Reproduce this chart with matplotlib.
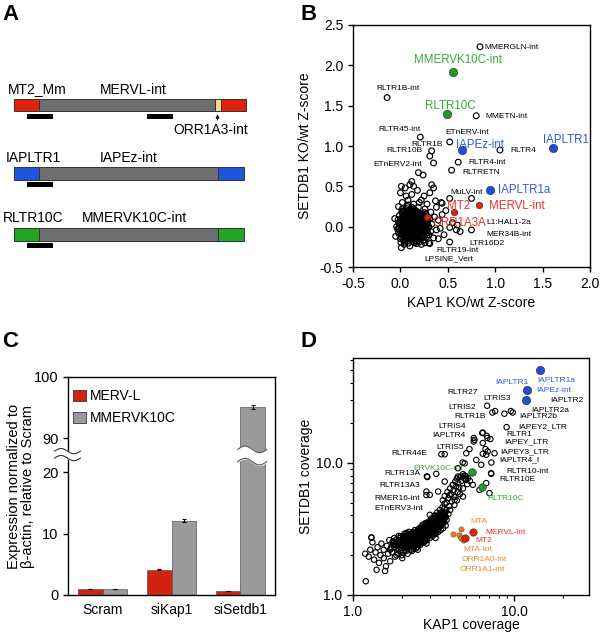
import numpy as np
import matplotlib
matplotlib.use('Agg')
import matplotlib.pyplot as plt
from matplotlib.patches import Rectangle, Patch
from matplotlib.ticker import FormatStrFormatter, LogLocator, NullFormatter

plt.rcParams['font.family'] = ['Liberation Sans', 'DejaVu Sans']

# ---------------- Panel A data (schematic) ----------------
a_ltr_names = ['MT2_Mm', 'IAPLTR1', 'RLTR10C']
a_int_names = ['MERVL-int', 'IAPEz-int', 'MMERVK10C-int']
a_ltr_colors = ['#e0230f', '#1f55d8', '#22a522']
a_ltr_len = [25, 25, 25]
a_int_len = [176, 179, 179]
a_extra_len = [6, 0, 0]          # ORR1A3-int insertion
a_ltr3_len = [25, 26, 26]

# ---------------- Panel B data ----------------
b_open_pts = [
    # dense core
    (0.00,0.02),(0.02,-0.05),(0.05,0.08),(0.07,-0.02),(0.10,0.04),(0.12,-0.08),(0.15,0.01),(0.03,0.12),
    (0.08,-0.12),(0.18,0.06),(0.20,-0.04),(0.13,0.14),(0.01,-0.10),(0.06,0.18),(0.22,0.10),(0.25,-0.08),
    (0.17,-0.14),(0.09,0.00),(0.04,-0.01),(0.11,0.09),(-0.02,0.05),(-0.03,-0.03),(0.14,-0.02),(0.19,0.13),
    (0.23,0.02),(0.27,0.05),(0.28,-0.12),(0.06,-0.16),(0.10,-0.18),(0.16,0.20),(0.02,0.22),(0.12,0.24),
    (0.21,-0.16),(0.30,0.00),(0.32,-0.06),(-0.01,0.14),(0.07,0.06),(0.16,-0.07),(0.05,0.03),(0.13,0.05),
    (0.09,-0.06),(0.18,-0.01),(0.03,-0.07),(0.11,-0.11),(0.24,0.14),(0.20,0.17),(0.08,0.15),(0.15,0.10),
    (0.26,-0.02),(0.00,-0.15),(0.04,0.09),(0.12,0.01),(0.19,-0.10),(0.22,-0.06),(0.14,-0.15),(0.07,0.25),
    (0.01,0.07),(0.17,0.03),(0.10,0.12),(0.06,-0.09),(-0.04,0.00),(0.29,0.08),(0.33,0.03),(0.24,-0.13),
    (0.09,0.20),(0.02,0.17),(0.16,0.15),(0.05,-0.12),(0.13,-0.05),(0.21,0.07),(0.08,-0.04),(0.11,-0.02),
    (0.14,0.06),(0.03,0.04),(0.19,0.00),(0.06,0.01),(0.16,-0.11),(0.10,-0.14),(-0.02,-0.08),(0.25,0.08),
    (0.01,-0.02),(0.04,0.05),(0.07,0.10),(0.09,-0.09),(0.12,0.07),(0.15,-0.04),(0.18,0.09),(0.20,0.02),
    (0.22,-0.10),(0.05,-0.05),(0.08,0.02),(0.11,0.16),(0.14,0.12),(0.17,-0.06),(0.02,0.10),(0.06,0.13),
    (0.10,-0.03),(0.13,-0.10),(0.16,0.04),(0.19,-0.13),(0.23,0.05),(0.26,0.11),(0.28,-0.04),(0.03,-0.12),
    (0.07,-0.14),(0.12,-0.16),(0.00,0.09),(-0.01,-0.05),(0.09,0.07),(0.15,0.17),(0.21,0.12),(0.18,-0.18),
    (0.24,-0.17),(0.27,0.16),(0.31,0.10),(0.04,0.20),(0.11,0.20),(0.08,0.27),(0.14,0.22),(0.19,0.24),
    (0.02,0.00),(0.05,-0.03),(0.08,0.05),(0.11,0.03),(0.14,-0.07),(0.17,0.07),(0.20,-0.07),(0.23,-0.01),
    (0.03,-0.09),(0.06,0.06),(0.09,0.10),(0.12,-0.13),(0.15,0.14),(0.18,-0.16),(0.21,0.04),(0.24,-0.05),
    (0.27,0.00),(0.00,0.05),(0.04,0.15),(0.07,-0.07),(0.10,0.08),(0.13,0.00),(0.16,-0.02),(0.19,0.10),
    (0.22,0.14),(0.25,0.03),(0.28,0.10),(0.30,-0.10),(0.01,-0.13),(0.05,0.11),(0.08,-0.10),(0.11,0.13),
    (0.14,0.03),(0.17,-0.09),(0.20,0.08),(0.23,-0.14),(0.26,0.06),(0.02,0.03),(0.06,-0.04),(0.09,0.03),
    (0.12,0.11),(0.15,-0.12),(0.18,0.02),(0.21,-0.02),(0.24,0.09),(0.27,-0.09),(-0.01,0.00),(0.03,0.07),
    (0.07,0.00),(0.10,0.00),(0.13,0.09),(0.16,0.08),(0.19,0.05),(0.22,0.00),(0.25,-0.11),(0.04,-0.16),
    (0.08,0.18),(0.12,-0.04),(0.16,0.12),(0.20,-0.19),
    (0.015,0.015),(0.045,-0.025),(0.075,0.035),(0.105,-0.055),(0.135,0.025),(0.165,-0.035),(0.195,0.045),
    (0.225,-0.025),(0.255,0.025),(0.285,-0.075),(0.015,-0.065),(0.045,0.065),(0.075,-0.105),(0.105,0.105),
    (0.135,-0.125),(0.165,0.125),(0.195,-0.075),(0.225,0.075),(0.255,-0.045),(0.285,0.045),(0.025,0.135),
    (0.055,-0.135),(0.085,0.085),(0.115,-0.085),(0.145,0.155),(0.175,-0.155),(0.205,0.105),(0.235,-0.105),
    (0.265,0.135),(0.295,-0.015),(-0.015,-0.025),(-0.025,0.085),(0.035,-0.175),(0.065,0.225),(0.095,-0.155),
    (0.125,0.185),(0.155,-0.175),(0.185,0.165),(0.215,-0.135),(0.245,0.115),(0.005,0.045),(0.035,0.025),
    (0.065,-0.055),(0.095,0.055),(0.125,-0.025),(0.155,0.065),(0.185,-0.045),(0.215,0.025),(0.245,-0.035),
    (0.275,0.075),(0.015,0.185),(0.055,0.155),(0.095,0.175),(0.135,0.195),(0.175,0.185),(0.215,0.155),
    (0.255,0.175),(0.005,-0.195),(0.045,-0.195),(0.085,-0.205),
    # scattered around the core
    (0.02,0.30),(0.08,0.33),(0.14,0.28),(0.20,0.30),(0.26,0.22),(0.32,0.18),(0.36,0.12),(0.40,0.08),
    (0.38,-0.04),(0.35,-0.14),(0.30,-0.20),(0.22,-0.22),(0.10,-0.24),(0.04,-0.22),(-0.05,-0.12),(-0.06,0.10),
    (0.00,0.42),(0.05,0.48),(0.12,0.40),(0.18,0.45),(0.25,0.38),(0.31,0.42),(0.37,0.32),(0.43,0.30),
    (0.48,0.20),(0.44,0.15),(0.42,-0.02),(0.46,-0.10),(0.15,-0.20),(0.26,-0.20),(0.38,0.24),(0.28,0.28),
    (-0.02,0.25),(0.10,0.52),(0.14,0.50),(0.12,0.56),(0.01,0.50),(0.33,0.52),(0.35,0.48),(0.06,0.38),
    (0.22,0.33),(0.55,0.05),(0.60,0.02),(0.52,-0.01),(0.59,-0.04),(0.63,-0.06),(0.44,0.29),(0.52,0.35),
    (0.40,-0.15),(0.14,-0.19),(0.17,-0.21),(0.31,-0.21),(0.19,0.67),(0.24,0.64),(0.01,-0.26),
    # points carrying black labels
    (0.84,2.23),(-0.14,1.60),(0.80,1.375),(0.21,1.11),(0.52,1.05),(0.33,0.94),(1.05,0.95),(0.31,0.875),
    (0.35,0.79),(0.61,0.80),(0.54,0.70),(0.75,0.35),(0.75,-0.04),(0.52,-0.19),
]
b_color_names = ['MMERVK10C-int', 'RLTR10C', 'IAPEz-int', 'IAPLTR1', 'IAPLTR1a', 'MT2', 'MERVL-int', 'ORR1A3A']
b_color_x = [0.55, 0.49, 0.65, 1.61, 0.94, 0.57, 0.83, 0.28]
b_color_y = [1.92, 1.40, 0.95, 0.97, 0.46, 0.18, 0.27, 0.12]
b_color_group = ['g', 'g', 'b', 'b', 'b', 'r', 'r', 'r']

b_black_labels = ['MMERGLN-int', 'RLTR1B-int', 'MMETN-int', 'RLTR45-int', 'ETnERV-int', 'RLTR1B',
                  'RLTR4', 'RLTR10B', 'ETnERV2-int', 'RLTR4-int', 'RLTRETN', 'MuLV-int',
                  'L1:HAL1-2a', 'MER34B-int', 'LTR16D2', 'RLTR19-int', 'LPSINE_Vert']

# ---------------- Panel C data ----------------
c_groups = ['Scram', 'siKap1', 'siSetdb1']
c_merv = [1.0, 4.1, 0.7]
c_mmervk = [1.0, 12.1, 95.1]
c_merv_err = [0.0, 0.1, 0.0]
c_mmervk_err = [0.0, 0.25, 0.35]

# ---------------- Panel D data ----------------
d_open_pts = [
    # lower left
    (1.19,2.05),(1.25,1.95),(1.28,2.2),(1.32,2.5),(1.35,1.85),(1.38,2.1),(1.42,2.3),(1.45,1.75),
    (1.48,2.0),(1.5,2.45),(1.55,1.9),(1.55,2.2),(1.6,1.65),(1.62,2.35),(1.65,2.05),(1.68,2.6),
    (1.7,1.8),(1.72,2.25),(1.2,1.27),(1.3,2.72),(1.4,1.55),(1.58,1.52),
    # dense band
    (1.75,2.1),(1.78,2.4),(1.8,2.7),(1.82,1.95),(1.85,2.25),(1.88,2.55),(1.9,2.05),(1.92,2.8),
    (1.95,2.35),(1.98,2.15),(2.0,2.6),(2.02,1.9),(2.05,2.45),(2.08,2.9),(2.1,2.2),(2.12,2.7),
    (2.15,2.4),(2.18,2.05),(2.2,2.55),(2.22,3.0),(2.25,2.3),(2.28,2.75),(2.3,2.5),(2.32,2.15),
    (2.35,2.9),(2.38,2.6),(2.4,2.35),(2.42,3.1),(2.45,2.7),(2.48,2.45),(2.5,2.95),(2.52,2.2),
    (2.55,2.6),(2.58,3.2),(2.6,2.8),(2.62,2.4),(2.65,3.0),(2.68,2.65),(2.7,3.4),(2.72,2.9),
    (2.75,2.5),(2.78,3.15),(2.8,2.75),(2.82,3.5),(2.85,3.0),(2.88,2.6),(2.9,3.3),(2.92,2.85),
    (2.95,3.6),(2.98,3.1),(3.0,2.7),(3.02,3.4),(3.05,2.95),(3.08,3.8),(3.1,3.2),(3.12,2.8),
    (3.15,3.5),(3.18,3.05),(3.2,4.0),(3.22,3.3),(3.25,2.9),(3.28,3.7),(3.3,3.15),(3.32,4.2),
    (3.35,3.45),(3.38,3.0),(3.4,3.85),(3.42,3.3),(3.45,4.4),(3.48,3.6),(3.5,3.1),(3.52,4.0),
    (3.55,3.4),(3.58,4.6),(3.6,3.75),(3.62,3.2),(3.65,4.2),(3.68,3.55),(3.7,4.9),(3.72,3.9),
    (3.75,3.35),(3.78,4.4),(3.8,3.7),
    (2.05,2.3),(2.15,2.6),(2.25,2.5),(2.35,2.4),(2.45,2.9),(2.55,2.8),(2.65,2.5),(2.75,2.7),
    (2.85,3.2),(2.95,2.9),(3.05,3.3),(2.1,2.75),(2.3,2.65),(2.5,2.6),(2.7,2.65),(2.9,3.0),
    (3.1,3.0),(2.2,2.35),(2.4,2.55),(2.6,3.1),(2.8,2.95),(3.0,3.25),(1.95,2.5),(2.05,2.1),
    (2.45,2.25),(2.85,2.45),(3.25,2.7),
    (1.8,2.3),(1.86,2.0),(1.9,2.45),(1.96,2.7),(2.0,2.2),(2.04,2.65),(2.1,2.4),(2.14,2.95),
    (2.18,2.3),(2.24,2.7),(2.28,2.4),(2.34,2.75),(2.38,2.25),(2.44,2.55),(2.48,3.0),(2.54,2.4),
    (2.58,2.7),(2.64,2.85),(2.68,3.2),(2.74,2.95),(2.78,2.55),(2.84,2.8),(2.88,3.4),(2.94,3.2),
    (2.98,2.85),(3.04,3.6),(3.08,3.1),(3.14,3.35),(3.18,3.8),(3.24,3.5),(3.28,3.25),(3.34,3.7),
    (3.38,4.0),(3.44,3.55),(3.48,3.9),(3.54,3.7),(3.58,4.1),(3.64,3.9),(3.68,4.5),(3.74,4.2),
    (2.2,2.85),(2.4,2.8),(2.6,2.6),(2.7,3.1),(2.8,3.3),(3.0,3.5),(3.2,3.6),(3.4,3.6),
    (3.0,3.0),(2.5,2.3),
    (1.7,2.2),(1.76,2.5),(1.84,2.4),(1.92,2.25),(1.94,2.6),(2.0,2.4),(2.06,2.6),(2.08,2.3),
    (2.12,2.5),(2.16,2.8),(2.2,2.45),(2.24,2.6),(2.26,2.9),(2.3,2.35),(2.32,2.8),(2.36,2.55),
    (2.4,2.95),(2.42,2.65),(2.46,2.4),(2.5,2.75),(2.52,3.05),(2.56,2.5),(2.6,2.95),(2.62,2.7),
    (2.66,3.3),(2.7,2.85),(2.72,2.55),(2.76,3.05),(2.8,2.85),(2.82,3.1),(2.86,2.7),(2.9,3.15),
    (2.92,3.45),(2.96,3.0),(3.0,3.35),(3.02,2.9),(3.06,3.5),(3.1,3.4),(3.12,3.1),(3.16,3.7),
    (3.2,3.25),(3.22,3.55),(3.26,3.1),(3.3,3.5),(3.32,3.85),(3.36,3.3),(3.4,3.75),(3.44,4.1),
    (3.46,3.45),(3.5,3.8),(3.56,3.55),(3.6,4.0),(3.66,3.7),(3.7,4.15),(3.76,3.9),(2.3,2.2),
    (2.6,2.45),(2.9,2.75),(3.2,3.0),(2.0,2.0),
    (1.73,2.30),(1.77,2.55),(1.81,2.42),(1.85,2.62),(1.89,2.35),(1.93,2.5),(1.97,2.78),(2.01,2.55),
    (2.05,2.78),(2.09,2.5),(2.13,2.62),(2.17,2.9),(2.21,2.7),(2.25,2.45),(2.29,2.88),(2.33,2.6),
    (2.37,3.0),(2.41,2.75),(2.45,2.55),(2.49,2.85),(2.53,3.12),(2.57,2.9),(2.61,2.68),(2.65,3.15),
    (2.69,2.95),(2.73,3.25),(2.77,2.95),(2.81,2.65),(2.85,3.1),(2.89,3.35),(2.93,3.05),(2.97,3.5),
    (3.01,3.15),(3.05,2.85),(3.09,3.3),(3.13,3.6),(3.17,3.2),(3.21,3.45),(3.25,3.85),(3.29,3.4),
    (3.33,3.05),(3.37,3.55),(3.41,3.95),(3.45,3.3),(3.49,3.7),(3.53,4.2),(3.57,3.85),(3.61,3.5),
    (3.65,4.05),(3.69,3.8),(2.03,2.35),(2.23,2.2),(2.43,2.45),(2.63,2.55),(2.83,3.45),(3.03,3.7),
    (3.23,3.95),(2.13,2.15),(2.33,2.95),(2.53,2.5),
    # upper branch
    (3.6,5.2),(3.7,5.6),(3.8,5.0),(3.85,6.0),(3.9,5.4),(3.95,4.7),(4.0,6.4),(4.05,5.8),
    (4.1,5.1),(4.15,6.8),(4.2,6.2),(4.25,5.5),(4.3,7.2),(4.35,6.6),(4.4,7.6),(4.45,6.0),
    (4.5,7.0),(4.6,7.8),(4.7,7.3),(4.8,8.2),(4.9,7.6),(5.0,7.9),(4.55,6.5),(4.25,4.8),
    (4.4,5.2),(4.0,4.4),(3.9,4.1),(4.6,5.8),(4.8,6.4),(5.1,6.9),(5.3,7.3),
    # scattered upper left / middle
    (2.85,5.7),(3.37,6.06),(3.97,5.7),(4.26,5.25),(2.99,4.04),(1.3,2.72),(2.99,5.72),(2.85,6.06),
    (3.70,7.21),(4.16,6.81),(4.47,7.87),(5.03,7.43),(5.53,6.81),(4.80,5.55),(6.08,6.24),(6.69,7.02),
    (7.18,8.35),(7.53,11.8),(6.69,11.5),(5.66,14.9),(6.37,14.1),(5.03,11.8),(6.23,9.66),(7.01,5.89),
    (4.69,7.87),(4.92,8.0),(5.15,7.65),(2.87,7.9),(3.28,8.25),(2.89,7.8),(7.18,8.25),
    # around labelled families
    (6.78,27.0),(7.3,24.0),(7.6,24.6),(8.67,23.5),(9.77,24.0),(9.5,24.6),(8.95,18.6),(6.33,16.8),
    (6.8,15.4),(7.1,15.1),(5.6,15.4),(5.6,14.5),(6.37,16.9),(6.74,16.0),(5.27,12.7),(3.53,11.6),
    (3.70,11.6),(5.8,10.5),(6.62,12.7),(6.83,12.2),(6.37,11.7),(4.92,9.9),(4.47,9.1),(7.2,10.05),
    (4.78,10.05),
]
d_color_names = ['IAPLTR1a', 'IAPLTR1', 'IAPEz-int', 'ERVK10C-int', 'RLTR10C', 'MERVL-int', 'MT2']
d_color_x = [14.4, 11.9, 11.8, 5.43, 6.32, 5.58, 4.96]
d_color_y = [50.0, 35.3, 29.6, 8.45, 6.6, 2.99, 2.72]
d_color_group = ['b', 'b', 'b', 'g', 'g', 'r', 'r']
d_orange_x = [4.64, 4.16, 4.57, 4.68, 4.80]
d_orange_y = [3.15, 2.90, 2.85, 2.69, 2.61]

# ---------------- styling / layout ----------------
RED = '#e0230f'; BLUE = '#1f4fd6'; GREEN = '#1f9e1f'; ORANGE = '#ec7a12'
TXT = {'r': '#e8332a', 'b': '#3558e0', 'g': '#3aa93a', 'o': '#f08a25', 'k': 'black'}
MK = {'r': RED, 'b': BLUE, 'g': GREEN}

W, H = 600, 634
fig = plt.figure(figsize=(W / 100, H / 100), dpi=100)


def rect(l, t, r, b):
    return [l / W, 1 - b / H, (r - l) / W, (b - t) / H]


for letter, (px, py) in zip('ABCD', [(2, 4), (301, 4), (2, 331), (300, 331)]):
    fig.text(px / W, 1 - py / H, letter, fontsize=16, fontweight='bold', va='top', ha='left')

# ---------------- Panel A ----------------
axA = fig.add_axes([0, 1 - 300 / H, 0.5, 300 / H])
axA.set_xlim(0, 300); axA.set_ylim(300, 0); axA.axis('off')
row_top = [99, 167, 228]
bar_h = [12, 12.5, 12.5]
x0 = 14
GRAY = '#6e6e6e'
for i in range(3):
    segs = [(a_ltr_len[i], a_ltr_colors[i]), (a_int_len[i], GRAY)]
    if a_extra_len[i]:
        segs.append((a_extra_len[i], '#f7d58a'))
    segs.append((a_ltr3_len[i], a_ltr_colors[i]))
    x = x0
    for L, c in segs:
        axA.add_patch(Rectangle((x, row_top[i]), L, bar_h[i], facecolor=c, edgecolor='#333333', lw=0.7))
        x += L
    # probe under 5' LTR
    axA.add_patch(Rectangle((27, row_top[i] + bar_h[i] + 2.5), 26, 5, facecolor='black', edgecolor='none'))
    axA.text([8, 6, 3][i], row_top[i] - 9.5, a_ltr_names[i], fontsize=10, va='center', ha='left')
    axA.text([100, 100, 82][i], row_top[i] - 9.5, a_int_names[i], fontsize=10, va='center', ha='left')
axA.add_patch(Rectangle((147, row_top[0] + bar_h[0] + 2.5), 26, 5, facecolor='black', edgecolor='none'))
axA.annotate('', xy=(217.5, 111.5), xytext=(217.5, 123),
             arrowprops=dict(arrowstyle='-|>', lw=0.7, color='black', mutation_scale=5))
axA.text(173, 130, 'ORR1A3-int', fontsize=10, va='center', ha='left')

# ---------------- Panel B ----------------
axB = fig.add_axes(rect(353, 25, 590, 267))
bx = [p[0] for p in b_open_pts]; by = [p[1] for p in b_open_pts]
axB.scatter(bx, by, s=17, facecolors='none', edgecolors='black', linewidths=0.85, zorder=2)
for nm, x, y, g in zip(b_color_names, b_color_x, b_color_y, b_color_group):
    s = 36 if g != 'r' else 22
    axB.scatter([x], [y], s=s, color=MK[g], edgecolors='#222222', linewidths=0.4, zorder=3)
axB.set_xlim(-0.5, 2.0); axB.set_ylim(-0.5, 2.5)
axB.set_xticks(np.arange(-0.5, 2.01, 0.5)); axB.set_yticks(np.arange(-0.5, 2.51, 0.5))
axB.xaxis.set_major_formatter(FormatStrFormatter('%.1f'))
axB.yaxis.set_major_formatter(FormatStrFormatter('%.1f'))
axB.tick_params(labelsize=10, length=3.5, width=1, direction='out')
axB.set_xlabel('KAP1 KO/wt Z-score', fontsize=10)
axB.set_ylabel('SETDB1 KO/wt Z-score', fontsize=10)
axB.xaxis.set_label_coords(0.5, -0.118)
axB.yaxis.set_label_coords(-0.172, 0.5)

b_color_label_pos = {'MMERVK10C-int': (0.14, 2.07), 'RLTR10C': (0.26, 1.49), 'IAPEz-int': (0.59, 1.01),
                     'IAPLTR1': (1.50, 1.08), 'IAPLTR1a': (1.03, 0.45), 'MT2': (0.49, 0.26),
                     'MERVL-int': (0.93, 0.26), 'ORR1A3A': (0.34, 0.05)}
b_black_label_pos = [(0.89, 2.22), (-0.25, 1.71), (0.90, 1.37), (-0.23, 1.21), (0.47, 1.17), (0.12, 1.02),
                     (1.16, 0.94), (-0.15, 0.94), (-0.29, 0.77), (0.72, 0.80), (0.65, 0.67), (0.53, 0.42),
                     (0.91, 0.05), (0.91, -0.10), (0.73, -0.21), (0.38, -0.29), (0.25, -0.40)]
for nm, g in zip(b_color_names, b_color_group):
    x, y = b_color_label_pos[nm]
    axB.text(x, y, nm, color=TXT[g], fontsize=8.3, va='center', ha='left', zorder=4)
for nm, (x, y) in zip(b_black_labels, b_black_label_pos):
    axB.text(x, y, nm, color='black', fontsize=6.0, va='center', ha='left', zorder=4)

# ---------------- Panel C ----------------
def fwd(y):
    y = np.asarray(y, dtype=float)
    return np.where(y <= 22, y, np.where(y >= 87, y - 64.5, 22 + (y - 22) * (0.5 / 65)))


def inv(f):
    f = np.asarray(f, dtype=float)
    return np.where(f <= 22, f, np.where(f >= 22.5, f + 64.5, 22 + (f - 22) * (65 / 0.5)))


axC = fig.add_axes(rect(68, 377, 275, 595))
axC.set_yscale('function', functions=(fwd, inv))
xc = np.arange(len(c_groups))
bw = 0.35
axC.bar(xc - bw / 2, c_merv, bw, color='#d42210', edgecolor='#555555', lw=0.5, zorder=2)
axC.bar(xc + bw / 2, c_mmervk, bw, color='#9a9a9a', edgecolor='#555555', lw=0.5, zorder=2)
axC.errorbar(xc + bw / 2, c_mmervk, yerr=c_mmervk_err, fmt='none', ecolor='black', elinewidth=0.8,
             capsize=1.5, capthick=0.8, zorder=3)
axC.errorbar(xc - bw / 2, c_merv, yerr=c_merv_err, fmt='none', ecolor='black', elinewidth=0.8,
             capsize=1.5, capthick=0.8, zorder=3)
axC.set_xlim(-0.5, 2.5); axC.set_ylim(0, 100)
axC.set_yticks([0, 10, 20, 90, 100])
axC.set_yticklabels(['0', '10', '20', '90', '100'])
axC.yaxis.set_minor_locator(plt.NullLocator())
axC.set_xticks(xc); axC.set_xticklabels(c_groups)
axC.tick_params(axis='x', length=0, labelsize=10, pad=6)
axC.tick_params(axis='y', length=3.5, width=1, labelsize=10.5, direction='out')
axC.set_ylabel('Expression normalized to\n\u03b2-actin, relative to Scram', fontsize=10.5, linespacing=1.0)
axC.yaxis.set_label_coords(-0.16, 0.5)
leg = axC.legend(handles=[Patch(facecolor='#d42210', edgecolor='#333333', lw=0.6, label='MERV-L'),
                          Patch(facecolor='#9a9a9a', edgecolor='#333333', lw=0.6, label='MMERVK10C')],
                 loc='upper left', bbox_to_anchor=(-0.035, 1.0), frameon=False, fontsize=10,
                 handlelength=0.9, handleheight=0.9, handletextpad=0.3, labelspacing=0.55)

# break on the siSetdb1 bar (axes-fraction band)
tb = axC.get_xaxis_transform()
xs = np.linspace(1.96, 2.38, 60)
ph = (xs - 1.96) / 0.42 * 2 * np.pi
lo = 0.612 + 0.015 * np.sin(ph)
hi = 0.668 + 0.015 * np.sin(ph)
axC.fill_between(xs, lo, hi, transform=tb, color='white', zorder=4)
axC.plot(xs, lo, transform=tb, color='#555555', lw=0.8, zorder=5)
axC.plot(xs, hi, transform=tb, color='#555555', lw=0.8, zorder=5)
# break on the left axis
ta = axC.transAxes
xa = np.linspace(-0.065, 0.06, 40)
pa = (xa + 0.065) / 0.125 * 2 * np.pi
axC.fill_between(xa, 0.628 + 0.012 * np.sin(pa), 0.66 + 0.012 * np.sin(pa), transform=ta,
                 color='white', zorder=6, clip_on=False)
axC.plot(xa, 0.628 + 0.012 * np.sin(pa), transform=ta, color='#333333', lw=0.8, zorder=7, clip_on=False)
axC.plot(xa, 0.66 + 0.012 * np.sin(pa), transform=ta, color='#333333', lw=0.8, zorder=7, clip_on=False)

# ---------------- Panel D ----------------
axD = fig.add_axes(rect(353, 358, 589, 595))
dx = [p[0] for p in d_open_pts]; dy = [p[1] for p in d_open_pts]
axD.scatter(dx, dy, s=15, facecolors='none', edgecolors='black', linewidths=0.8, zorder=2)
axD.scatter(d_orange_x, d_orange_y, s=15, color=ORANGE, edgecolors='#444444', linewidths=0.3, zorder=3)
for nm, x, y, g in zip(d_color_names, d_color_x, d_color_y, d_color_group):
    s = {'b': 36, 'g': 30, 'r': 28}[g]
    axD.scatter([x], [y], s=s, color=MK[g], edgecolors='#222222', linewidths=0.4, zorder=3)
axD.set_xscale('log'); axD.set_yscale('log')
axD.set_xlim(1, 29); axD.set_ylim(1, 62)
axD.set_xticks([1, 10]); axD.set_xticklabels(['1.0', '10.0'])
axD.set_yticks([1, 10]); axD.set_yticklabels(['1.0', '10.0'])
axD.xaxis.set_minor_locator(LogLocator(base=10, subs=np.arange(2, 10)))
axD.yaxis.set_minor_locator(LogLocator(base=10, subs=np.arange(2, 10)))
axD.xaxis.set_minor_formatter(NullFormatter()); axD.yaxis.set_minor_formatter(NullFormatter())
axD.tick_params(which='major', labelsize=10, length=4, width=1, direction='out')
axD.tick_params(which='minor', length=2.5, width=0.8, direction='out')
axD.set_xlabel('KAP1 coverage', fontsize=10)
axD.set_ylabel('SETDB1 coverage', fontsize=10)
axD.xaxis.set_label_coords(0.5, -0.095)
axD.yaxis.set_label_coords(-0.17, 0.5)

d_labels = [
    ('IAPLTR1a', 13.9, 42.0, 'b'), ('IAPLTR1', 7.63, 40.6, 'b'), ('IAPEz-int', 13.6, 35.1, 'b'),
    ('RLTR27', 3.84, 34.1, 'k'), ('LTRIS3', 6.46, 30.4, 'k'), ('IAPLTR2', 16.6, 29.5, 'k'),
    ('LTRIS2', 3.91, 26.4, 'k'), ('IAPLTR2a', 12.7, 25.0, 'k'), ('RLTR1B', 4.22, 22.2, 'k'),
    ('IAPLTR2b', 10.7, 22.2, 'k'), ('LTRIS4', 3.36, 18.8, 'k'), ('IAPEY2_LTR', 10.5, 18.8, 'k'),
    ('RLTR1', 8.89, 16.5, 'k'), ('IAPLTR4', 3.10, 16.0, 'k'), ('IAPEY_LTR', 8.67, 14.3, 'k'),
    ('LTRIS5', 3.29, 13.1, 'k'), ('IAPEY3_LTR', 8.2, 12.2, 'k'), ('RLTR44E', 1.73, 11.7, 'k'),
    ('IAPLTR4_I', 8.08, 10.5, 'k'), ('ERVK10C-int', 2.38, 9.12, 'g'), ('RLTR10-int', 8.97, 8.6, 'k'),
    ('RLTR13A', 1.56, 8.26, 'k'), ('RLTR10E', 8.08, 7.53, 'k'), ('RLTR13A3', 1.45, 6.73, 'k'),
    ('RLTR10C', 6.78, 5.40, 'g'), ('RMER16-int', 1.35, 5.34, 'k'), ('ETnERV3-int', 1.35, 4.54, 'k'),
    ('MTA', 5.33, 3.59, 'o'), ('MERVL-int', 6.62, 2.96, 'r'), ('MT2', 5.74, 2.58, 'r'),
    ('MTA-int', 4.80, 2.19, 'o'), ('ORR1A0-int', 4.69, 1.84, 'o'), ('ORR1A1-int', 4.58, 1.57, 'o'),
]
for nm, x, y, g in d_labels:
    axD.text(x, y, nm, color=TXT[g], fontsize=6.0, va='center', ha='left', zorder=4)

for ax in (axB, axC, axD):
    for sp in ax.spines.values():
        sp.set_linewidth(1.0)

fig.savefig('out.png', dpi=100)
